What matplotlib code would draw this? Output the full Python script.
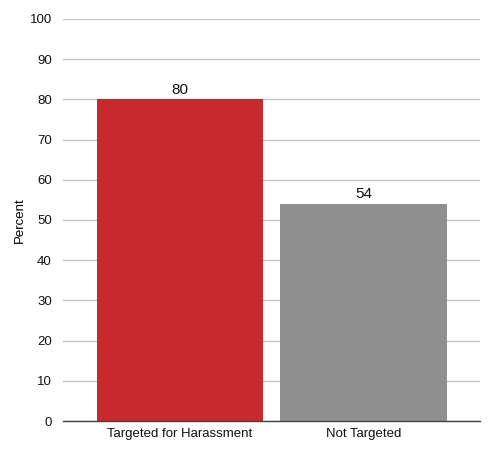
import matplotlib
matplotlib.use('Agg')
import matplotlib.pyplot as plt

categories = ['Targeted for Harassment', 'Not Targeted']
values = [80, 54]
colors = ['#c8292c', '#8f8f8f']
yticks = list(range(0, 101, 10))

plt.rcParams['font.family'] = ['Liberation Sans', 'DejaVu Sans']

fig = plt.figure(figsize=(5, 4.51), dpi=100)
ax = fig.add_axes([0.126, 0.0665, 0.834, 0.8915])

x = list(range(len(categories)))
bars = ax.bar(x, values, width=0.905, color=colors, zorder=3)
for b, v in zip(bars, values):
	ax.text(b.get_x() + b.get_width() / 2, v + 0.6, str(v), ha='center', va='bottom', fontsize=11, color='#111111')

ax.set_xlim(-0.638, 1.635)
ax.set_ylim(0, 100)
ax.set_yticks(yticks)
ax.set_xticks(x)
ax.set_xticklabels(categories)
ax.yaxis.grid(True, color='#c4c4c4', linewidth=1, zorder=0)
ax.tick_params(axis='both', length=0, labelsize=9.5, colors='#111111')
ax.tick_params(axis='y', pad=8)
ax.tick_params(axis='x', pad=5)
for s in ['top', 'right', 'left']:
	ax.spines[s].set_visible(False)
ax.spines['bottom'].set_color('#444444')
ax.spines['bottom'].set_linewidth(1)
ax.spines['bottom'].set_zorder(4)
ax.set_ylabel('Percent', fontsize=9.5, labelpad=3)

fig.savefig('out.png', dpi=100)
